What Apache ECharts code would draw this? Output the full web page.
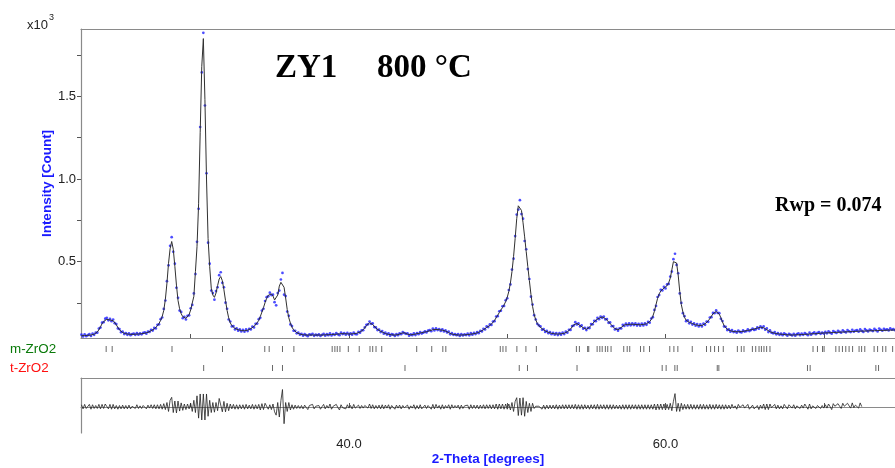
<!DOCTYPE html>
<html>
<head>
<meta charset="utf-8">
<script src="https://cdn.jsdelivr.net/npm/echarts@6/dist/echarts.min.js"></script>
<style>
html,body{margin:0;padding:0;background:#fff;}
#chart{width:895px;height:468px;}
</style>
</head>
<body>
<div id="chart"></div>
<script>
// 2-Theta scan: start and step (degrees)
const twoThetaStart = 23.1;
const twoThetaStep = 0.1;

// calculated profile (counts), rows of 1 degree: 23.1-24.0, 24.1-25.0, ...
const calcCounts = [
52,52,53,53,54,55,56,58,61,66,
74,88,106,124,138,147,151,150,147,146,
143,133,118,102,88,78,71,67,64,62,
61,60,60,60,61,61,62,63,64,65,
67,69,72,78,82,87,93,101,112,126,
145,168,205,272,370,490,578,622,575,472,
358,265,215,185,167,158,157,164,180,208,
250,290,440,590,850,1280,1680,1850,1480,1000,
640,470,340,298,284,310,355,395,410,385,
330,265,205,160,130,113,103,96,91,88,
85,83,82,82,83,85,89,95,100,108,
118,130,145,168,195,222,252,278,296,306,
305,292,268,258,298,352,375,385,345,280,
210,160,128,104,88,77,70,66,62,59,
57,56,56,56,56,56,56,56,56,56,
56,56,56,56,57,57,58,58,59,60,
60,61,62,63,64,64,64,63,63,62,
62,63,64,65,67,70,74,80,88,98,
112,124,130,128,120,109,98,90,84,79,
74,69,65,62,60,58,57,56,56,57,
58,61,66,70,70,66,61,58,57,58,
60,62,64,66,68,70,72,74,76,79,
82,85,88,89,90,89,88,87,85,83,
80,75,70,66,62,60,58,57,56,56,
56,57,57,58,59,60,61,62,64,66,
69,72,77,82,88,95,102,108,114,122,
132,145,160,176,192,208,222,238,258,284,
320,370,440,530,640,760,838,848,810,735,
650,560,470,385,300,230,180,148,126,112,
102,94,87,81,76,72,69,66,64,63,
62,62,62,63,65,67,70,75,82,92,
104,118,127,126,120,114,108,100,94,91,
94,104,116,126,136,146,153,158,162,165,
162,156,147,136,126,115,104,95,89,87,
92,102,112,117,119,120,120,121,121,121,
120,119,118,118,119,120,121,124,129,137,
150,170,200,240,278,305,322,333,340,346,
355,372,400,450,500,512,492,420,320,240,
195,163,146,138,133,129,125,121,118,116,
114,113,114,118,124,132,142,155,170,184,
194,198,195,182,160,135,114,100,91,85,
81,79,77,76,76,76,76,77,78,80,
82,84,86,88,90,92,95,98,101,103,
103,100,95,88,81,76,72,69,67,65,
63,62,61,60,59,58,57,57,56,56,
57,57,58,58,59,59,60,60,61,61,
62,63,63,64,65,65,66,67,67,68,
69,69,70,70,71,71,72,72,73,73,
74,74,75,75,76,76,77,77,78,78,
79,79,79,80,80,80,81,81,81,82,
82,82,83,83,83,84,84,84,85,85,
85,86,86,86,87
];

// observed intensities (counts), same grid
const obsCounts = [
58,47,60,49,55,62,50,64,57,70,
70,95,101,131,134,155,160,145,154,140,
150,128,122,96,92,73,76,62,68,57,
66,55,62,64,57,67,58,66,60,69,
72,64,77,75,88,83,99,96,118,121,
152,162,214,265,382,478,596,648,560,488,
342,281,204,196,158,166,150,172,175,218,
238,308,425,620,820,1315,1645,1885,1445,1035,
615,488,325,310,270,322,345,418,436,372,
345,252,215,150,138,108,110,90,97,82,
91,78,88,76,90,80,94,90,107,102,
124,125,152,160,204,215,262,285,290,312,
298,300,255,236,310,325,392,432,300,292,
198,172,120,110,82,82,66,70,58,63,
52,61,55,49,60,57,63,51,58,54,
60,50,57,63,52,61,55,66,53,62,
57,68,60,55,70,62,67,58,69,59,
66,58,71,62,60,75,70,84,85,102,
118,121,138,124,126,104,102,86,89,74,
80,64,70,59,66,52,61,58,50,62,
55,66,61,74,68,63,66,52,60,55,
66,56,68,61,74,65,70,79,72,83,
86,79,95,84,97,86,92,81,91,78,
84,72,76,60,68,57,62,55,61,50,
61,53,60,56,64,54,67,58,69,62,
74,67,82,78,94,90,108,104,120,117,
138,140,168,170,200,203,230,232,266,278,
328,362,452,518,655,785,815,872,788,760,
625,575,455,395,288,240,176,150,124,114,
108,88,92,75,81,67,74,61,69,58,
68,56,67,58,71,62,76,70,88,87,
110,113,134,120,126,108,114,94,100,86,
99,98,122,121,142,140,160,152,168,160,
168,150,153,130,132,109,110,90,94,82,
97,96,118,111,125,114,126,115,127,116,
126,113,124,112,125,114,127,118,135,131,
156,164,208,232,286,298,330,326,348,338,
362,365,410,440,515,548,480,430,308,250,
188,170,140,145,127,136,119,127,112,122,
108,120,108,125,118,138,136,162,164,190,
188,205,190,188,154,141,108,106,86,90,
76,86,74,79,70,83,75,72,84,77,
79,91,80,86,95,87,90,102,94,108,
99,108,88,96,74,84,70,66,74,60,
68,57,64,55,66,60,52,63,58,53,
63,52,61,66,55,64,57,68,62,55,
70,58,66,72,61,69,74,63,71,65,
75,66,78,71,64,80,74,69,82,75,
70,84,77,72,86,79,74,88,76,83,
86,76,90,81,75,92,84,78,89,85,
80,93,86,78,95,88,82,94,87,91,
84,96,88,92,85
];

// last 2-theta of the difference curve
const diffEnd = 72.4;

// reflection positions (degrees)
const mZrO2Peaks = [24.66,25.04,28.82,32.01,34.68,34.96,35.80,36.52,38.94,39.11,39.26,39.43,39.96,40.65,41.33,41.50,41.71,42.07,44.28,45.23,45.93,46.12,49.56,49.73,49.92,50.61,51.18,51.84,54.37,54.56,55.08,55.15,55.68,55.85,56.00,56.20,56.35,56.56,57.36,57.58,57.74,58.42,58.63,58.99,60.27,60.53,60.78,61.69,62.59,62.85,63.10,63.35,63.65,64.54,64.79,64.96,65.49,65.70,65.91,66.06,66.22,66.39,66.60,69.32,69.60,69.92,70.02,70.76,70.97,71.18,71.39,71.60,71.82,72.23,72.39,72.59,73.18,73.40,73.72,73.92,74.35];
const tZrO2Peaks = [30.82,35.17,35.80,43.54,50.76,51.28,54.41,59.79,60.04,60.59,60.74,63.27,63.37,68.97,69.14,73.29,73.46];

// axis ticks / labels
const xTickValues = [30,40,50,60,70];
const xLabelValues = [40,60];
const yTickValues = [250,500,750,1000,1250,1500,1750];
const yLabelValues = [500,1000,1500];

const xAt = i => +(twoThetaStart + i*twoThetaStep).toFixed(2);
const obsData = obsCounts.map((v,i)=>[xAt(i), v]);
const calcData = calcCounts.map((v,i)=>[xAt(i), v]);
const diffData = obsCounts.map((v,i)=>[xAt(i), v - calcCounts[i]]).filter(d=>d[0] <= diffEnd);

const XMIN = 23.07, XMAX = 74.5;
const FONT = 'Liberation Sans, Arial, sans-serif';
const SERIF = 'Liberation Serif, Times New Roman, serif';
const AX = '#8a8a8a';

const chart = echarts.init(document.getElementById('chart'), null, {renderer:'canvas'});
const option = {
  animation:false,
  backgroundColor:'#fff',
  grid:[
    {left:81, top:29, width:814, height:309},
    {left:81, top:340, width:814, height:36},
    {left:81, top:378, width:814, height:55}
  ],
  xAxis:[
    {gridIndex:0, type:'value', min:XMIN, max:XMAX, position:'bottom',
     axisLine:{lineStyle:{color:AX, width:1.2}},
     axisTick:{inside:true, length:4, customValues:xTickValues, lineStyle:{color:'#555'}},
     axisLabel:{show:false}, splitLine:{show:false}},
    {gridIndex:0, type:'value', min:XMIN, max:XMAX, position:'top',
     axisLine:{lineStyle:{color:AX, width:1.2}}, axisTick:{show:false}, axisLabel:{show:false}, splitLine:{show:false}},
    {gridIndex:1, type:'value', min:XMIN, max:XMAX, show:false},
    {gridIndex:2, type:'value', min:XMIN, max:XMAX, position:'bottom',
     axisLine:{lineStyle:{color:AX, width:1.2}},
     axisTick:{inside:true, length:4, customValues:xTickValues, lineStyle:{color:'#555'}},
     axisLabel:{customValues:xLabelValues, formatter:v=>v.toFixed(1), margin:5, color:'#222', fontSize:13, fontFamily:FONT},
     splitLine:{show:false},
     name:'2-Theta [degrees]', nameLocation:'middle', nameGap:19, nameMoveOverlap:false,
     nameTextStyle:{color:'#1a1aff', fontWeight:'bold', fontSize:13.5, fontFamily:FONT}},
    {gridIndex:2, type:'value', min:XMIN, max:XMAX, position:'top',
     axisLine:{lineStyle:{color:AX, width:1.2}}, axisTick:{show:false}, axisLabel:{show:false}, splitLine:{show:false}}
  ],
  yAxis:[
    {gridIndex:0, type:'value', min:38, max:1908,
     axisLine:{show:true, lineStyle:{color:AX, width:1.2}},
     axisTick:{show:true, length:4, customValues:yTickValues, lineStyle:{color:'#555'}},
     axisLabel:{customValues:yLabelValues, formatter:v=>(v/1000).toFixed(1), margin:5, color:'#222', fontSize:13, fontFamily:FONT},
     splitLine:{show:false},
     name:'Intensity [Count]', nameLocation:'middle', nameGap:27, nameRotate:90, nameMoveOverlap:false,
     nameTextStyle:{color:'#1a1aff', fontWeight:'bold', fontSize:13.5, fontFamily:FONT}},
    {gridIndex:1, type:'value', min:0, max:36, inverse:true, show:false},
    {gridIndex:2, type:'value', min:-70, max:78,
     axisLine:{show:true, lineStyle:{color:AX, width:1.2}}, axisTick:{show:false}, axisLabel:{show:false}, splitLine:{show:false}}
  ],
  series:[
    {type:'scatter', name:'obs', xAxisIndex:0, yAxisIndex:0, data:obsData, symbol:'circle', symbolSize:2.7,
     itemStyle:{color:'#1f1fff'}, z:2, silent:true},
    {type:'line', name:'calc', xAxisIndex:0, yAxisIndex:0, data:calcData, showSymbol:false,
     lineStyle:{color:'#303030', width:1}, z:3, silent:true},
    {type:'scatter', name:'m-ZrO2', xAxisIndex:2, yAxisIndex:1, data:mZrO2Peaks.map(p=>[p,9]), symbol:'rect', symbolSize:[1,6],
     itemStyle:{color:'#444'}, silent:true},
    {type:'scatter', name:'t-ZrO2', xAxisIndex:2, yAxisIndex:1, data:tZrO2Peaks.map(p=>[p,28]), symbol:'rect', symbolSize:[1,6],
     itemStyle:{color:'#444'}, silent:true},
    {type:'line', name:'diff', xAxisIndex:3, yAxisIndex:2, data:diffData, showSymbol:false,
     lineStyle:{color:'#222', width:0.8}, silent:true}
  ],
  graphic:[
    {type:'text', left:27, top:19, style:{text:'x10', font:'13px '+FONT, fill:'#222'}},
    {type:'text', left:49, top:13, style:{text:'3', font:'9px '+FONT, fill:'#222'}},
    {type:'text', left:10, top:343, style:{text:'m-ZrO2', font:'13.4px '+FONT, fill:'#0a7a0a'}},
    {type:'text', left:10, top:362, style:{text:'t-ZrO2', font:'13.4px '+FONT, fill:'#ff1010'}},
    {type:'text', left:275, top:52, style:{text:'ZY1', font:'bold 33px '+SERIF, fill:'#000'}},
    {type:'text', left:377, top:52, style:{text:'800 °C', font:'bold 33px '+SERIF, fill:'#000'}},
    {type:'text', left:775, top:196, style:{text:'Rwp = 0.074', font:'bold 20px '+SERIF, fill:'#000'}}
  ]
};
chart.setOption(option);
</script>
</body>
</html>
